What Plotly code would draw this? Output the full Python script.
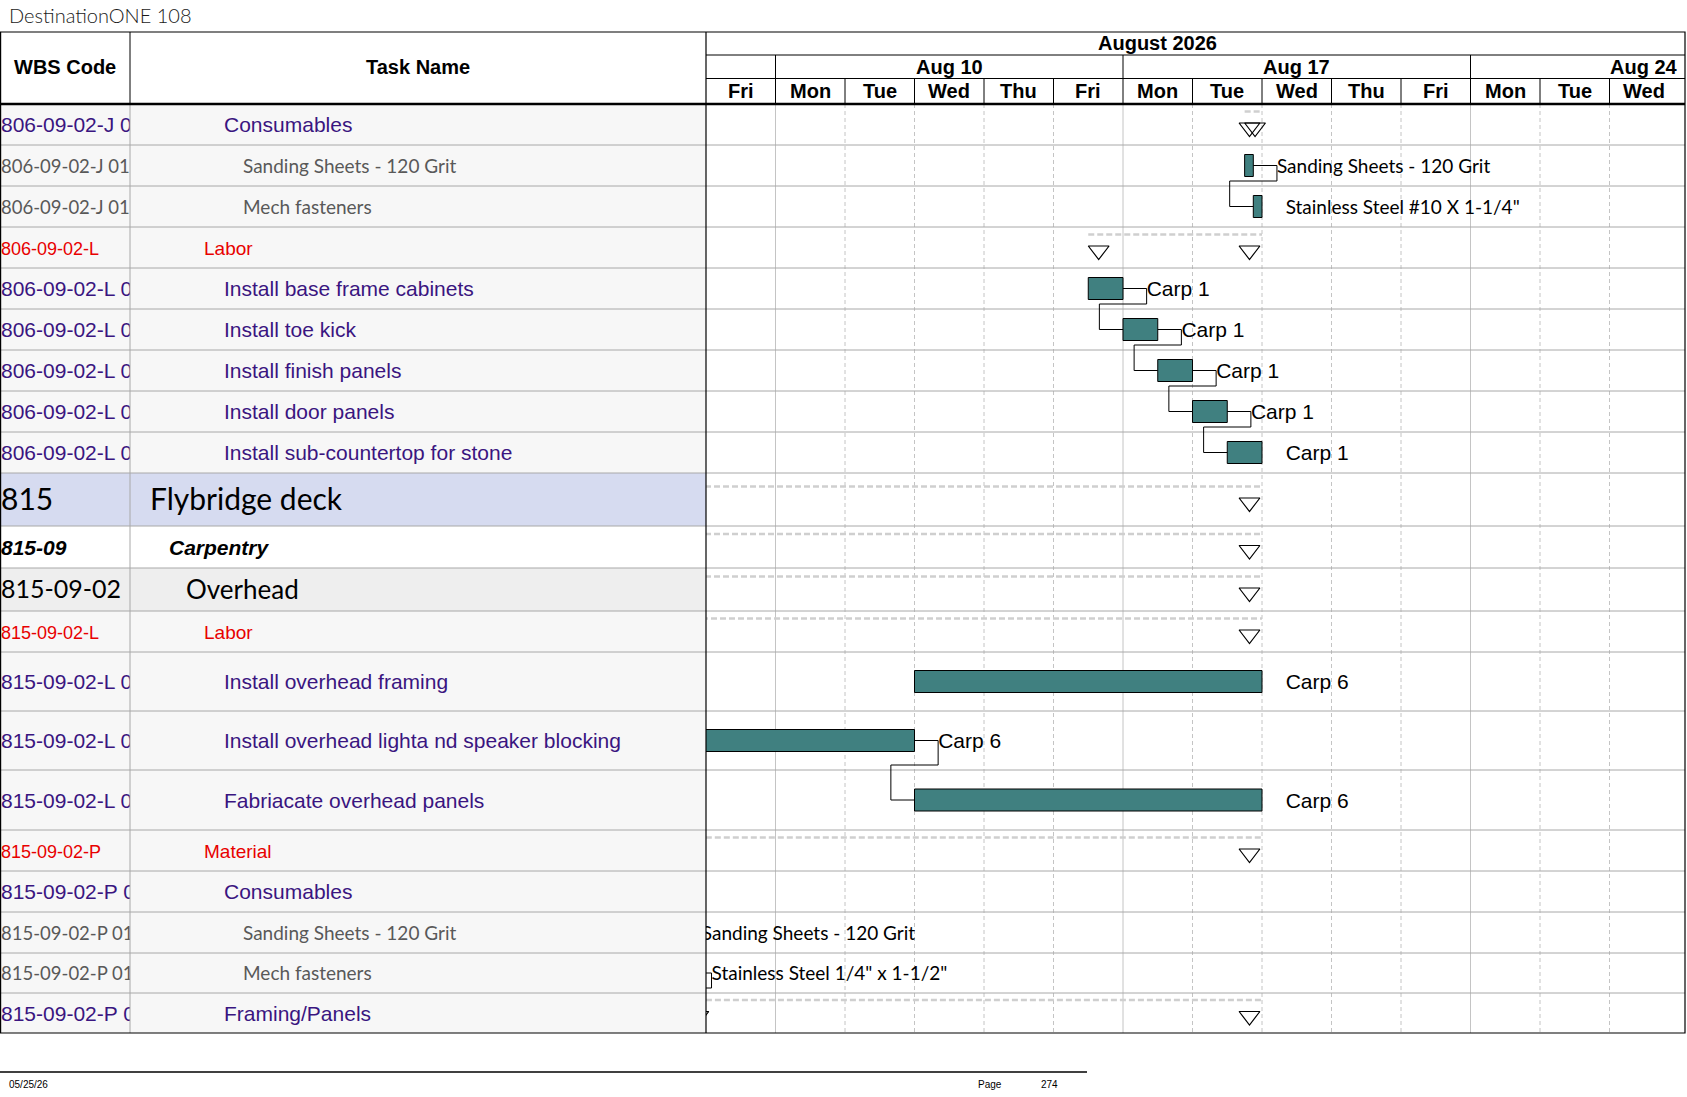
import numpy as np
import pandas as pd
import plotly.graph_objects as go

# ---- données du planning ----
project_title = "DestinationONE 108"
month_label = "August 2026"
view_start = "2026-08-07"
day_labels = ["Fri", "Mon", "Tue", "Wed", "Thu", "Fri", "Mon", "Tue", "Wed", "Thu", "Fri", "Mon", "Tue", "Wed"]
week_labels = ["Aug 10", "Aug 17", "Aug 24"]
week_starts = ["2026-08-10", "2026-08-17", "2026-08-24"]

wbs_codes = [
    "806-09-02-J 01", "806-09-02-J 01-01", "806-09-02-J 01-02", "806-09-02-L",
    "806-09-02-L 01", "806-09-02-L 02", "806-09-02-L 03", "806-09-02-L 04", "806-09-02-L 05",
    "815", "815-09", "815-09-02", "815-09-02-L",
    "815-09-02-L 01", "815-09-02-L 02", "815-09-02-L 03",
    "815-09-02-P", "815-09-02-P 01", "815-09-02-P 01-01", "815-09-02-P 01-02", "815-09-02-P 02",
]
task_names = [
    "Consumables", "Sanding Sheets - 120 Grit", "Mech fasteners", "Labor",
    "Install base frame cabinets", "Install toe kick", "Install finish panels",
    "Install door panels", "Install sub-countertop for stone",
    "Flybridge deck", "Carpentry", "Overhead", "Labor",
    "Install overhead framing", "Install overhead lighta nd speaker blocking",
    "Fabriacate overhead panels",
    "Material", "Consumables", "Sanding Sheets - 120 Grit", "Mech fasteners", "Framing/Panels",
]
# niveau / type de ligne (sert à choisir le style)
outline_type = [
    "task", "item", "item", "group", "task", "task", "task", "task", "task",
    "l1", "l2", "l3", "group", "task", "task", "task",
    "group", "task", "item", "item", "task",
]

# barres de tâches (index de ligne)
bar_rows = [1, 2, 4, 5, 6, 7, 8, 13, 14, 15, 18, 19]
bar_start = [
    "2026-08-18 18:00", "2026-08-18 21:00", "2026-08-14 12:00", "2026-08-17 00:00",
    "2026-08-17 12:00", "2026-08-18 00:00", "2026-08-18 12:00", "2026-08-12 00:00",
    "2026-08-05 00:00", "2026-08-12 00:00", "2026-08-06 11:30", "2026-08-06 14:24",
]
bar_finish = [
    "2026-08-18 21:00", "2026-08-19 00:00", "2026-08-17 00:00", "2026-08-17 12:00",
    "2026-08-18 00:00", "2026-08-18 12:00", "2026-08-19 00:00", "2026-08-19 00:00",
    "2026-08-12 00:00", "2026-08-19 00:00", "2026-08-06 14:24", "2026-08-06 17:45",
]
bar_labels = [
    "Sanding Sheets - 120 Grit", 'Stainless Steel #10 X 1-1/4"',
    "Carp 1", "Carp 1", "Carp 1", "Carp 1", "Carp 1",
    "Carp 6", "Carp 6", "Carp 6",
    "Sanding Sheets - 120 Grit", 'Stainless Steel 1/4" x 1-1/2"',
]

# tâches récapitulatives
summary_rows = [0, 3, 9, 10, 11, 12, 16, 17, 20]
summary_start = [
    "2026-08-18 18:00", "2026-08-14 12:00", "2026-07-20 00:00", "2026-07-20 00:00",
    "2026-07-20 00:00", "2026-08-05 00:00", "2026-08-06 11:30", "2026-08-06 11:30",
    "2026-08-06 17:45",
]
summary_finish = [
    "2026-08-19 00:00", "2026-08-19 00:00", "2026-08-19 00:00", "2026-08-19 00:00",
    "2026-08-19 00:00", "2026-08-19 00:00", "2026-08-19 00:00", "2026-08-06 17:45",
    "2026-08-19 00:00",
]

# liens fin-début (ligne prédécesseur, ligne successeur)
links = [(1, 2), (4, 5), (5, 6), (6, 7), (7, 8), (14, 15), (18, 19), (19, 20)]

footer_date = "05/25/26"
page_number = "274"

# ---- mise en page ----
W, H = 1687, 1097
TABLE_TOP, HDR1, HDR2, HDR_BOTTOM = 32, 55, 78.5, 104
COL_WBS, COL_TASK, RIGHT = 130, 706, 1685
DAY_PX = 69.5
row_heights = np.array([41] * 9 + [53, 42, 43, 41, 59, 59, 60, 41, 41, 41, 40, 40])
tops = HDR_BOTTOM + np.concatenate([[0], np.cumsum(row_heights)[:-1]])
bottoms = tops + row_heights
centers = tops + row_heights / 2
BOTTOM = bottoms[-1]

LABEL_GAP = 0.34  # en jours, distance barre -> étiquette
BAR_H = 22
TEXT_DY = 2.5     # petit décalage vertical des textes

ARIAL = "Liberation Sans, Arial, sans-serif"
CALIBRI = "Lato, Calibri, sans-serif"
styles = {
    "task": dict(font=ARIAL, size=21, wsize=21, color="#3A1580", indent=224, bg="#F7F7F7"),
    "item": dict(font=CALIBRI, size=19, wsize=18.5, color="#595959", indent=243, bg="#F7F7F7"),
    "group": dict(font=ARIAL, size=19, wsize=18, color="#E80000", indent=204, bg="#F7F7F7"),
    "l1": dict(font=CALIBRI, size=30, wsize=30, color="#000000", indent=150, bg="#D6DBF0"),
    "l2": dict(font=ARIAL, size=21, wsize=21, color="#000000", indent=169, bg="#FFFFFF",
               weight="bold", style="italic"),
    "l3": dict(font=CALIBRI, size=26, wsize=25, color="#000000", indent=186, bg="#EEEEEE"),
}


def X(p):
    return p / W


def Y(p):
    return 1 - p / H


def work_days(ts):
    # jours ouvrés depuis le début de la vue (week-ends masqués comme dans MS Project)
    t = pd.Timestamp(ts)
    whole = np.busday_count(np.datetime64(view_start), np.datetime64(t.date()))
    return whole + (t - t.normalize()) / pd.Timedelta(days=1)


fig = go.Figure()

# fonds des lignes du tableau
for i, kind in enumerate(outline_type):
    fig.add_shape(type="rect", xref="paper", yref="paper", x0=0, x1=X(COL_TASK),
                  y0=Y(tops[i]), y1=Y(bottoms[i]), fillcolor=styles[kind]["bg"],
                  line_width=0, layer="below")

# quadrillage du Gantt
day_dates = pd.bdate_range(view_start, periods=15)
for k in range(1, 14):
    monday = day_dates[k].dayofweek == 0
    fig.add_shape(type="line", xref="x", yref="paper", x0=k, x1=k,
                  y0=Y(HDR_BOTTOM), y1=Y(BOTTOM),
                  line=dict(color="#C4C4C4", width=1, dash="solid" if monday else "4px,3px"),
                  layer="below")
    fig.add_shape(type="line", xref="x", yref="paper", x0=k, x1=k,
                  y0=Y(HDR2), y1=Y(HDR_BOTTOM), line=dict(color="#000000", width=1))
for ws in week_starts:
    k = work_days(ws)
    fig.add_shape(type="line", xref="x", yref="paper", x0=k, x1=k,
                  y0=Y(HDR1), y1=Y(HDR2), line=dict(color="#000000", width=1))

# lignes horizontales des rangées
for b in bottoms[:-1]:
    fig.add_shape(type="line", xref="paper", yref="paper", x0=0, x1=X(RIGHT),
                  y0=Y(b), y1=Y(b), line=dict(color="#A8A8A8", width=1), layer="below")

# cadre et en-têtes
for y in (HDR1, HDR2):
    fig.add_shape(type="line", xref="paper", yref="paper", x0=X(COL_TASK), x1=X(RIGHT),
                  y0=Y(y), y1=Y(y), line=dict(color="#000000", width=1))
fig.add_shape(type="line", xref="paper", yref="paper", x0=X(COL_WBS), x1=X(COL_WBS),
              y0=Y(TABLE_TOP), y1=Y(HDR_BOTTOM), line=dict(color="#000000", width=1))
fig.add_shape(type="line", xref="paper", yref="paper", x0=X(COL_WBS), x1=X(COL_WBS),
              y0=Y(HDR_BOTTOM), y1=Y(BOTTOM), line=dict(color="#A8A8A8", width=1))
fig.add_shape(type="line", xref="paper", yref="paper", x0=X(COL_TASK), x1=X(COL_TASK),
              y0=Y(TABLE_TOP), y1=Y(BOTTOM), line=dict(color="#000000", width=1.2))
fig.add_shape(type="rect", xref="paper", yref="paper", x0=X(0.6), x1=X(RIGHT),
              y0=Y(TABLE_TOP), y1=Y(BOTTOM), line=dict(color="#000000", width=1.2))
fig.add_shape(type="line", xref="paper", yref="paper", x0=0, x1=X(RIGHT),
              y0=Y(HDR_BOTTOM), y1=Y(HDR_BOTTOM), line=dict(color="#000000", width=2.5))
# pied de page
fig.add_shape(type="line", xref="paper", yref="paper", x0=0, x1=X(1087),
              y0=Y(1072), y1=Y(1072), line=dict(color="#000000", width=1.3))

# barres récapitulatives (ligne pointillée + triangles)
sx, sy, tri_x, tri_y = [], [], [], []
for r, s, f in zip(summary_rows, summary_start, summary_finish):
    s, f = work_days(s), work_days(f)
    sx += [s, f, None]
    sy += [centers[r] - 13, centers[r] - 13, None]
    tri_x += [s + 0.15, f - 0.18]
    tri_y += [centers[r] + 3, centers[r] + 3]
fig.add_trace(go.Scatter(x=sx, y=sy, mode="lines", hoverinfo="skip",
                         line=dict(color="#CFCFCF", width=2.5, dash="6px,3px")))
fig.add_trace(go.Scatter(x=tri_x, y=tri_y, mode="markers", hoverinfo="skip",
                         marker=dict(symbol="triangle-down-open", size=18, color="#000000",
                                     line=dict(width=1.2))))

# liens
start_of = {r: work_days(s) for r, s in zip(bar_rows, bar_start)}
finish_of = {r: work_days(f) for r, f in zip(bar_rows, bar_finish)}
start_of.update({r: work_days(s) for r, s in zip(summary_rows, summary_start)})
lx, ly = [], []
for p, q in links:
    pe, qs = finish_of[p], start_of[q]
    drop = bottoms[p] - 5
    lx += [pe, pe + LABEL_GAP, pe + LABEL_GAP, qs - LABEL_GAP, qs - LABEL_GAP, qs, None]
    ly += [centers[p], centers[p], drop, drop, centers[q], centers[q], None]
fig.add_trace(go.Scatter(x=lx, y=ly, mode="lines", hoverinfo="skip",
                         line=dict(color="#000000", width=1)))

# barres de tâches
b_start = [work_days(s) for s in bar_start]
b_len = [work_days(f) - work_days(s) for s, f in zip(bar_start, bar_finish)]
fig.add_trace(go.Bar(y=[centers[r] for r in bar_rows], x=b_len, base=b_start,
                     orientation="h", width=BAR_H, hoverinfo="skip",
                     marker=dict(color="#408080", line=dict(color="#000000", width=1))))

# étiquettes des barres
for fam, size in ((ARIAL, 21), (CALIBRI, 19)):
    idx = [i for i, r in enumerate(bar_rows)
           if (outline_type[r] == "item") == (fam == CALIBRI)]
    fig.add_trace(go.Scatter(
        x=[work_days(bar_finish[i]) + LABEL_GAP for i in idx],
        y=[centers[bar_rows[i]] + TEXT_DY for i in idx],
        text=[bar_labels[i] for i in idx],
        mode="text", textposition="middle right", cliponaxis=True, hoverinfo="skip",
        textfont=dict(family=fam, size=size, color="#000000")))

# texte du tableau (découpé par les colonnes)
for kind, st in styles.items():
    rows = [i for i, k in enumerate(outline_type) if k == kind]
    font_extra = {k: st[k] for k in ("weight", "style") if k in st}
    ys = [centers[i] + TEXT_DY for i in rows]
    fig.add_trace(go.Scatter(
        x=[1] * len(rows), y=ys, text=[wbs_codes[i] for i in rows],
        xaxis="x2", yaxis="y", mode="text", textposition="middle right",
        cliponaxis=True, hoverinfo="skip",
        textfont=dict(family=st["font"], size=st["wsize"], color=st["color"], **font_extra)))
    fig.add_trace(go.Scatter(
        x=[st["indent"]] * len(rows), y=ys, text=[task_names[i] for i in rows],
        xaxis="x3", yaxis="y", mode="text", textposition="middle right",
        cliponaxis=True, hoverinfo="skip",
        textfont=dict(family=st["font"], size=st["size"], color=st["color"], **font_extra)))

# annotations : titre, en-têtes, pied de page
hdr_font = dict(family=ARIAL, size=20, color="#000000", weight="bold")
small = dict(family=ARIAL, size=10, color="#000000")
annotations = [
    dict(xref="paper", x=X(7), y=Y(15), text=project_title, xanchor="left",
         font=dict(family=CALIBRI, size=20, color="#1A1A1A", weight=300)),
    dict(xref="paper", x=X(65), y=Y(67), text="WBS Code", font=hdr_font),
    dict(xref="paper", x=X((COL_WBS + COL_TASK) / 2), y=Y(67), text="Task Name", font=hdr_font),
    dict(xref="x", x=6.5, y=Y((TABLE_TOP + HDR1) / 2), text=month_label, font=hdr_font),
    dict(xref="paper", x=X(7), y=Y(1084), text=footer_date, xanchor="left", font=small),
    dict(xref="paper", x=X(990), y=Y(1084), text="Page", font=small),
    dict(xref="paper", x=X(1049), y=Y(1084), text=page_number, font=small),
]
for lab, ws in zip(week_labels, week_starts):
    annotations.append(dict(xref="x", x=work_days(ws) + 2.5,
                            y=Y((HDR1 + HDR2) / 2), text=lab, font=hdr_font))
for k, lab in enumerate(day_labels):
    annotations.append(dict(xref="x", x=k + 0.5,
                            y=Y((HDR2 + HDR_BOTTOM) / 2), text=lab, font=hdr_font))
for a in annotations:
    a.setdefault("xanchor", "center")
    a.update(yref="paper", yanchor="middle", showarrow=False)

hidden = dict(visible=False, showgrid=False, zeroline=False, fixedrange=True)
fig.update_layout(
    width=W, height=H,
    margin=dict(l=0, r=0, t=0, b=0),
    paper_bgcolor="#FFFFFF", plot_bgcolor="rgba(0,0,0,0)",
    showlegend=False,
    xaxis=dict(domain=[X(COL_TASK), X(RIGHT)], range=[0, (RIGHT - COL_TASK) / DAY_PX], **hidden),
    xaxis2=dict(domain=[0, X(COL_WBS)], range=[0, COL_WBS], anchor="y", **hidden),
    xaxis3=dict(domain=[X(COL_WBS), X(COL_TASK)], range=[COL_WBS, COL_TASK], anchor="y", **hidden),
    yaxis=dict(domain=[0, 1], range=[H, 0], **hidden),
    annotations=annotations,
)

# la page HTML a une marge de 8 px par défaut : on la supprime
fig.write_html("out.html", config={"displayModeBar": False},
               post_script="document.body.style.margin='0';document.body.style.overflow='hidden';")
